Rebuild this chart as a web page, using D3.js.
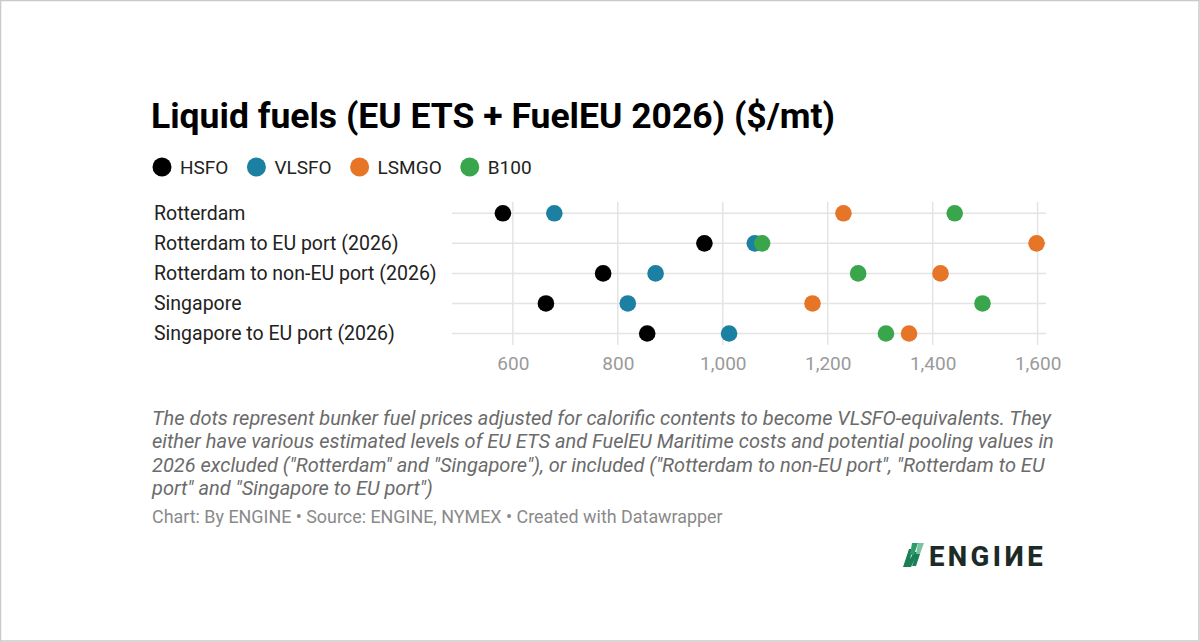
<!DOCTYPE html>
<html>
<head>
<meta charset="utf-8">
<script src="https://cdn.jsdelivr.net/npm/d3@7"></script>
<style>
  html, body { margin: 0; padding: 0; background: #fff; }
  svg { display: block; font-family: Roboto, "Noto Sans", sans-serif; }
</style>
</head>
<body>
<svg id="chart" width="1200" height="642"></svg>
<script>
// ---- data ----
const categories = [
  "Rotterdam",
  "Rotterdam to EU port (2026)",
  "Rotterdam to non-EU port (2026)",
  "Singapore",
  "Singapore to EU port (2026)"
];
const seriesNames = ["HSFO", "VLSFO", "LSMGO", "B100"];
const seriesColors = ["#000000", "#1b80a1", "#e67527", "#3aa64c"];
const hsfo  = [581, 965, 772, 663, 856];
const vlsfo = [679, 1061, 872, 819, 1012];
const lsmgo = [1230, 1598, 1415, 1171, 1355];
const b100  = [1442, 1075, 1258, 1495, 1311];
const tickValues = [600, 800, 1000, 1200, 1400, 1600];
const xDomain = [484, 1616];
const titleText = "Liquid fuels (EU ETS + FuelEU 2026) ($/mt)";
const noteLines = [
  "The dots represent bunker fuel prices adjusted for calorific contents to become VLSFO-equivalents. They",
  "either have various estimated levels of EU ETS and FuelEU Maritime costs and potential pooling values in",
  "2026 excluded (\"Rotterdam\" and \"Singapore\"), or included (\"Rotterdam to non-EU port\", \"Rotterdam to EU",
  "port\" and \"Singapore to EU port\")"
];
const sourceText = "Chart: By ENGINE \u2022 Source: ENGINE, NYMEX \u2022 Created with Datawrapper";

const seriesValues = [hsfo, vlsfo, lsmgo, b100];

// ---- drawing ----
const svg = d3.select("#chart");

// outer border
svg.append("rect")
  .attr("x", 0.5).attr("y", 0.5).attr("width", 1198.5).attr("height", 640.5)
  .attr("fill", "#fff").attr("stroke", "#cacaca").attr("stroke-width", 1.5);

// title
svg.append("text")
  .attr("x", 151).attr("y", 128)
  .attr("font-size", 35.5).attr("font-weight", 700).attr("fill", "#000")
  .text(titleText);

// legend
const legend = svg.append("g");
let lx = 162;
seriesNames.forEach((name, i) => {
  legend.append("circle").attr("cx", lx).attr("cy", 167).attr("r", 9.5).attr("fill", seriesColors[i]);
  const t = legend.append("text")
    .attr("x", lx + 18).attr("y", 167).attr("dy", "0.35em")
    .attr("font-size", 19).attr("fill", "#222").text(name);
  lx = lx + 18 + t.node().getComputedTextLength() + 28;
});

// scales
const x = d3.scaleLinear().domain(xDomain).range([452, 1046]);
const y = d3.scalePoint().domain(categories).range([213.3, 333.5]);

// vertical grid
svg.append("g").selectAll("line").data(tickValues).join("line")
  .attr("x1", d => x(d)).attr("x2", d => x(d))
  .attr("y1", 202).attr("y2", 345)
  .attr("stroke", "#e4e4e4").attr("stroke-width", 1.5);

// horizontal row lines
svg.append("g").selectAll("line").data(categories).join("line")
  .attr("x1", x.range()[0]).attr("x2", x.range()[1])
  .attr("y1", d => y(d)).attr("y2", d => y(d))
  .attr("stroke", "#e4e4e4").attr("stroke-width", 1.5);

// row labels
svg.append("g").selectAll("text").data(categories).join("text")
  .attr("x", 154).attr("y", d => y(d)).attr("dy", "0.35em")
  .attr("font-size", 19.5).attr("fill", "#222")
  .text(d => d);

// x axis
const axis = svg.append("g")
  .attr("transform", "translate(0,353)")
  .call(d3.axisBottom(x).tickValues(tickValues).tickFormat(d3.format(",")).tickSize(0));
axis.select(".domain").remove();
axis.selectAll("text")
  .attr("font-family", "Roboto, sans-serif")
  .attr("font-size", 19).attr("fill", "#9a9a9a").attr("dy", "0.71em");

// dots
seriesValues.forEach((vals, si) => {
  svg.append("g").selectAll("circle").data(vals).join("circle")
    .attr("cx", d => x(d))
    .attr("cy", (d, i) => y(categories[i]))
    .attr("r", 8.3)
    .attr("fill", seriesColors[si]);
});

// notes
svg.append("g").selectAll("text").data(noteLines).join("text")
  .attr("x", 152).attr("y", (d, i) => 425 + i * 23.4)
  .attr("font-size", 20).attr("font-style", "italic").attr("fill", "#6b6b6b")
  .text(d => d);

// source
svg.append("text")
  .attr("x", 152).attr("y", 523)
  .attr("font-size", 17.9).attr("fill", "#8a8a8a")
  .text(sourceText);

// logo
const logo = svg.append("g");
logo.append("polygon").attr("points", "903,567 909,549 913,549 910,559 914,552 918,552 911,567").attr("fill", "#1a7f57");
logo.append("polygon").attr("points", "912,543 918,543 914,555 910,555").attr("fill", "#2f9a6c");
logo.append("polygon").attr("points", "916,554 920,554 916,566 912,566").attr("fill", "#1a7f57");
logo.append("polygon").attr("points", "918,543 924,543 920,554 916,554").attr("fill", "#7cc3a1");
const logoFont = { size: 27.5, weight: 800, fill: "#1d2b28" };
let gx = 929;
const letters = ["E", "N", "G", "I", "N", "E"];
letters.forEach((ch, i) => {
  const mirrored = (i === 4);
  const t = logo.append("text")
    .attr("font-family", "Roboto, sans-serif")
    .attr("font-size", logoFont.size).attr("font-weight", logoFont.weight)
    .attr("fill", logoFont.fill).text(ch);
  const w = t.node().getComputedTextLength();
  if (mirrored) {
    t.attr("transform", `translate(${gx + w},565.5) scale(-1,1)`);
  } else {
    t.attr("x", gx).attr("y", 565.5);
  }
  gx += w + 3.4;
});
</script>
</body>
</html>
